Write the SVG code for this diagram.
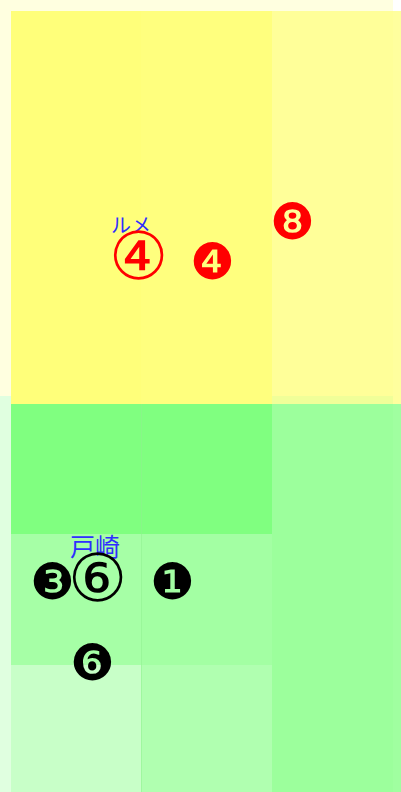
<svg xmlns="http://www.w3.org/2000/svg" width="401" height="792" viewBox="0 0 401 792">
<style>
.c{font-family:"DejaVu Serif",serif;text-anchor:middle;dominant-baseline:central}
.j{font-family:"Noto Sans CJK JP",sans-serif;fill:#2e2eff}
</style>
<g id="background">
<rect x="0" y="0" width="393" height="404" fill="#ffffe0"/>
<rect x="0" y="396" width="393" height="396" fill="#e0ffe0"/>
<rect x="11" y="11" width="130" height="393" fill="#ffff7a"/>
<rect x="141" y="11" width="131" height="393" fill="#ffff7e"/>
<rect x="272" y="11" width="121" height="393" fill="#ffff99"/>
<rect x="393" y="11" width="8" height="393" fill="#ffff9e"/>
<rect x="272" y="396" width="121" height="8" fill="#f0ff99"/>
<rect x="11" y="404" width="130" height="130" fill="#80ff80"/>
<rect x="141" y="404" width="131" height="130" fill="#80ff80"/>
<rect x="272" y="404" width="121" height="388" fill="#9cff9c"/>
<rect x="393" y="404" width="8" height="388" fill="#a0ffa0"/>
<rect x="11" y="534" width="130" height="131" fill="#a6ffa6"/>
<rect x="141" y="534" width="131" height="258" fill="#a3ffa3"/>
<rect x="11" y="665" width="130" height="127" fill="#c8ffc8"/>
<rect x="141" y="665" width="131" height="127" fill="#b0ffb0"/>
<line x1="141.5" y1="404" x2="141.5" y2="792" stroke="#90f090" stroke-width="1" opacity="0.5"/>
</g>
<g id="connectors"></g>
<g id="node-rume">
<text class="j" x="111" y="233" font-size="20">ルメ</text>
<text class="c" x="138" y="256" font-size="66" fill="#ff0000">④</text>
</g>
<g id="node-4">
<text class="c" x="212" y="262" font-size="50" fill="#ff0000">❹</text>
</g>
<g id="node-8">
<text class="c" x="292" y="222" font-size="50" fill="#ff0000">❽</text>
</g>
<g id="node-tozaki">
<text class="j" x="70" y="556" font-size="25">戸崎</text>
<text class="c" x="97" y="578" font-size="66" fill="#000">⑥</text>
</g>
<g id="node-3">
<text class="c" x="52" y="582" font-size="50" fill="#000">❸</text>
</g>
<g id="node-1">
<text class="c" x="172" y="582" font-size="50" fill="#000">❶</text>
</g>
<g id="node-6">
<text class="c" x="92" y="663" font-size="50" fill="#000">❻</text>
</g>
</svg>
